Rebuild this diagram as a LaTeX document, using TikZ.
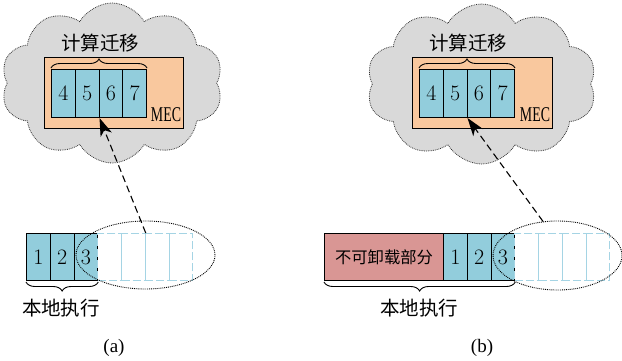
\documentclass[tikz,border=0pt]{standalone}
\usepackage{fontspec}
\usepackage{graphicx}
\newfontfamily\cjk{Noto Sans CJK SC}
\newfontfamily\tms{Liberation Serif}
\usetikzlibrary{shapes.symbols,shapes.geometric,decorations.pathreplacing,arrows.meta}
\definecolor{cellblue}{RGB}{146,205,220}
\definecolor{dashblue}{RGB}{165,212,228}
\definecolor{mecorange}{RGB}{249,200,158}
\definecolor{cloudgray}{RGB}{217,217,217}
\definecolor{redbox}{RGB}{217,150,148}
\begin{document}
\begin{tikzpicture}[x=1pt,y=1pt,
  cloudbox/.style={cloud, cloud puffs=10, cloud puff arc=120, aspect=1.3, draw=black!80, densely dotted, line width=0.8pt, fill=cloudgray, inner sep=0pt, minimum width=222pt, minimum height=160pt},
  mecbox/.style={draw=black, line width=1pt, fill=mecorange, inner sep=0pt, anchor=north west},
  cell/.style={draw=black, line width=1pt, fill=cellblue, inner sep=0pt, minimum width=23.75pt, minimum height=48pt, anchor=north west, font=\fontsize{22}{22}\selectfont},
  lowcell/.style={cell, minimum height=47pt},
  ghost/.style={draw=dashblue, dash pattern=on 8pt off 3pt, line width=1pt, inner sep=0pt, minimum width=23.75pt, minimum height=47pt, anchor=north west},
  oval/.style={ellipse, draw=black, densely dotted, line width=0.9pt, inner sep=0pt},
  brc/.style={draw=black, line width=0.9pt, decorate, decoration={brace, amplitude=9pt}},
  mig/.style={draw=black, line width=1.1pt, dash pattern=on 7pt off 4pt, -{Stealth[length=18pt,width=12pt,inset=5pt]}},
  cjklab/.style={font=\cjk\fontsize{19.5}{19.5}\selectfont, inner sep=0pt},
  meclab/.style={inner sep=0pt},
  captxt/.style={font=\tms\fontsize{19}{19}\selectfont, inner sep=0pt}
]
\useasboundingbox (0,0) rectangle (622,-360);
\fill[white] (0,0) rectangle (622,-360);

% ---------- panel (a) ----------
\node[cloudbox] (ca) at (112,-83) {};
\node[mecbox, minimum width=139pt, minimum height=71pt] (mba) at (44,-57) {};
\foreach \i/\x in {4/51,5/74.75,6/98.5,7/122.25}{
  \node[cell] (a\i) at (\x,-69) {\i};
}
\draw[brc] ([yshift=1pt]a4.north west) -- ([yshift=1pt]a7.north east);
\node[cjklab] (ta) at (100,-43) {计算迁移};
\node[meclab] (ma) at (166,-115) {\scalebox{0.66}[1]{\tms\fontsize{21}{21}\selectfont MEC}};

\foreach \i/\x in {1/26,2/49.75,3/73.5}{
  \node[lowcell] (a\i) at (\x,-233) {\i};
}
\foreach \i/\x in {1/97.25,2/121,3/144.75,4/168.5}{
  \node[ghost] (ga\i) at (\x,-233) {};
}
\node[oval, minimum width=139pt, minimum height=68pt] (ea) at (145.5,-255) {};
\draw[brc] ([yshift=-1pt]a3.south east) -- ([yshift=-1pt]a1.south west);
\node[cjklab] (la) at (61,-308) {本地执行};
\draw[mig] (ga2.north east) -- (a5.south east);
\node[captxt] (capa) at (114,-348) {(a)};

% ---------- panel (b) ----------
\node[cloudbox, minimum width=230pt] (cb) at (481.5,-84) {};
\node[mecbox, minimum width=140pt, minimum height=71pt] (mbb) at (412,-57) {};
\foreach \i/\x in {4/419,5/442.75,6/466.5,7/490.25}{
  \node[cell] (b\i) at (\x,-69) {\i};
}
\draw[brc] ([yshift=1pt]b4.north west) -- ([yshift=1pt]b7.north east);
\node[cjklab] (tb) at (468,-43) {计算迁移};
\node[meclab] (mb) at (535,-115) {\scalebox{0.66}[1]{\tms\fontsize{21}{21}\selectfont MEC}};

\node[draw=black, line width=1pt, fill=redbox, inner sep=0pt, minimum width=119pt, minimum height=47pt, anchor=north west, font=\cjk\fontsize{16.3}{16.3}\selectfont] (rb) at (324,-233) {不可卸载部分};
\foreach \i/\x in {1/443,2/466.75,3/490.5}{
  \node[lowcell] (b\i) at (\x,-233) {\i};
}
\foreach \i/\x in {1/514.25,2/538,3/561.75,4/585.5}{
  \node[ghost] (gb\i) at (\x,-233) {};
}
\node[oval, minimum width=129pt, minimum height=69pt] (eb) at (557.5,-255.5) {};
\draw[brc] ([yshift=-1pt]b3.south east) -- ([yshift=-1pt]rb.south west);
\node[cjklab] (lb) at (419,-308) {本地执行};
\draw[mig] (eb.113) -- (b5.south east);
\node[captxt] (capb) at (482,-348) {(b)};
\end{tikzpicture}
\end{document}
